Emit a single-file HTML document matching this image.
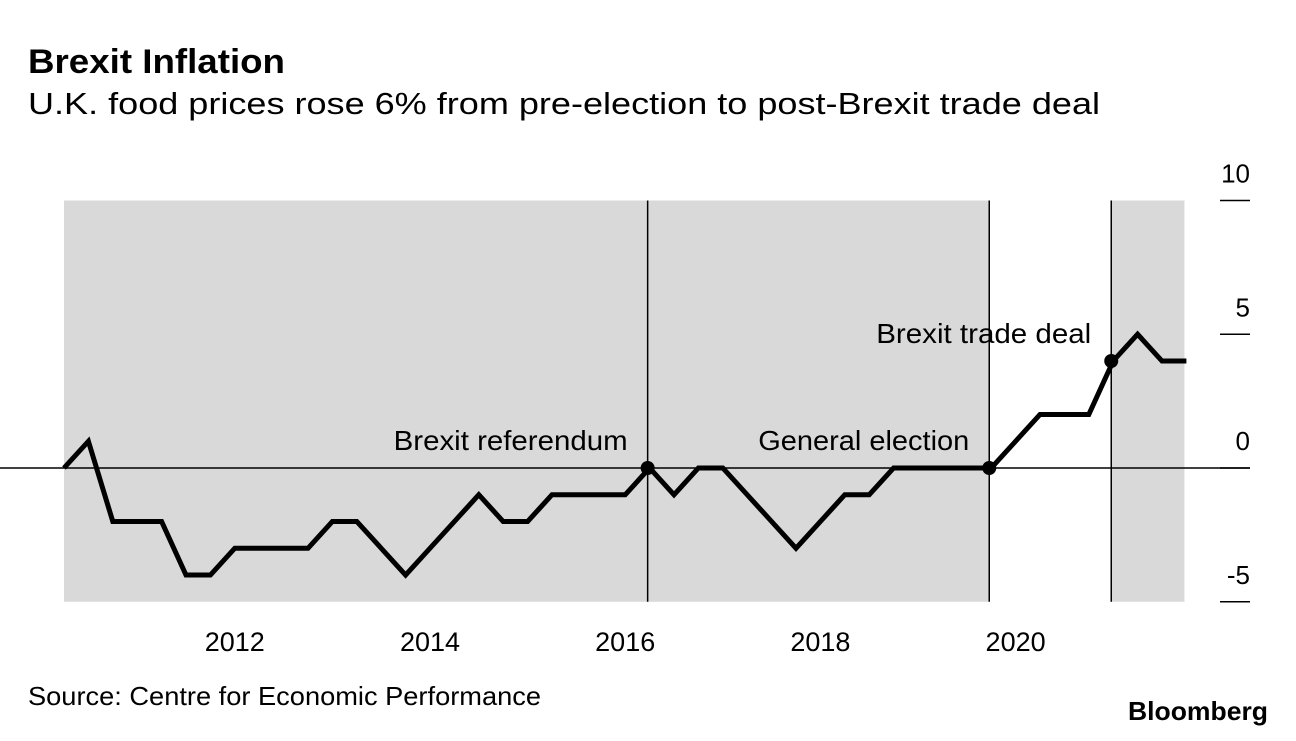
<!DOCTYPE html>
<html><head><meta charset="utf-8"><style>
body{margin:0;background:#fff;font-family:"Liberation Sans",sans-serif;}
svg text{font-family:"Liberation Sans",sans-serif;}
</style></head><body>
<svg width="1296" height="736">
<text x="28" y="73" font-size="34" font-weight="bold" fill="#000" textLength="257" lengthAdjust="spacingAndGlyphs">Brexit Inflation</text>
<text x="28" y="114" font-size="31" fill="#000" textLength="1072" lengthAdjust="spacingAndGlyphs">U.K. food prices rose 6% from pre-election to post-Brexit trade deal</text>
<g id="plot"></g>
<text x="28" y="705" font-size="26" fill="#000" textLength="513" lengthAdjust="spacingAndGlyphs">Source: Centre for Economic Performance</text>
<text x="1128" y="720" font-size="26" font-weight="bold" fill="#000" textLength="140" lengthAdjust="spacingAndGlyphs">Bloomberg</text>
</svg>
<script>
const startYear = 2010.25;
const values = [0,1,-2,-2,-2,-4,-4,-3,-3,-3,-3,-2,-2,-3,-4,-3,-2,-1,-2,-2,-1,-1,-1,-1,0,-1,0,0,-1,-2,-3,-2,-1,-1,0,0,0,0,0,1,2,2,2,4,5,4,4];
const yTicks = [10,5,0,-5];
const xTicks = [2012,2014,2016,2018,2020];
const events = [{t:2016.23,v:0,label:"Brexit referendum"},{t:2019.73,v:0,label:"General election"},{t:2020.98,v:4,label:"Brexit trade deal"}];
const labelWidths = [234,211,215];
const shades = [[2010.25,2019.73],[2020.98,2021.73]];

const NS="http://www.w3.org/2000/svg";
const g=document.getElementById('plot');
const X=t=>64+(t-2010.25)*97.6;
const Y=v=>468-v*26.75;
function mk(tag,attrs,parent){const e=document.createElementNS(NS,tag);for(const k in attrs)e.setAttribute(k,attrs[k]);(parent||g).appendChild(e);return e;}
shades.forEach(s=>{
  const r=mk('rect',{x:X(s[0]),y:Y(10),width:X(s[1])-X(s[0]),height:Y(-5)-Y(10),fill:'#d9d9d9'});
  
  
});
const zl=mk('line',{x1:0,x2:1250,y1:Y(0),y2:Y(0),stroke:'#000','stroke-width':1.5});


yTicks.forEach(v=>{
  const l=mk('line',{x1:1220,x2:1250,y1:Y(v),y2:Y(v),stroke:'#000','stroke-width':1.5});
  
  
  const t=mk('text',{x:1250,y:Y(v)-18,'font-size':26,'text-anchor':'end'});
  t.textContent=v;
  
  
});
xTicks.forEach(y=>{
  const t=mk('text',{x:X(y),y:651,'font-size':27,'text-anchor':'middle'});
  t.textContent=y;
  
  
});
events.forEach(e=>{
  const l=mk('line',{x1:X(e.t),x2:X(e.t),y1:Y(10),y2:Y(-5),stroke:'#000','stroke-width':1.5});
  
  
});
const pts=values.map((v,i)=>X(startYear+i*0.25)+','+Y(v)).join(' ');
const line=mk('polyline',{points:pts,fill:'none',stroke:'#000','stroke-width':5,'stroke-linejoin':'miter'});


events.forEach((e,i)=>{
  const c=mk('circle',{cx:X(e.t),cy:Y(e.v),r:7,fill:'#000'});
  
  
  const t=mk('text',{x:X(e.t)-20-labelWidths[i],y:Y(e.v)-18,'font-size':28,textLength:labelWidths[i],lengthAdjust:'spacingAndGlyphs'});
  t.textContent=e.label;
  
  
});
</script>
</body></html>
